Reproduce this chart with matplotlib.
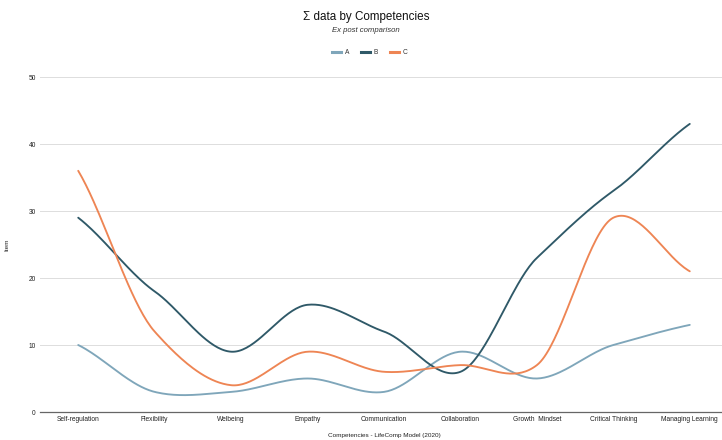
import numpy as np
import matplotlib
matplotlib.use("Agg")
import matplotlib.pyplot as plt
from matplotlib.lines import Line2D

plt.rcParams['font.family'] = ['Liberation Sans', 'DejaVu Sans']

categories = ["Self-regulation", "Flexibility", "Welbeing", "Empathy", "Communication",
              "Collaboration", "Growth  Mindset", "Critical Thinking", "Managing Learning"]
series_a = [10, 3, 3, 5, 3, 9, 5, 10, 13]
series_b = [29, 18, 9, 16, 12, 6, 23, 33, 43]
series_c = [36, 12, 4, 9, 6, 7, 7, 29, 21]
y_ticks = [0, 10, 20, 30, 40, 50]

colors = {"A": "#7FA6BA", "B": "#2F5968", "C": "#EE8554"}


def smooth(values, tension=0.8, samples=40):
    """Cubic Hermite curve through the points with damped Catmull-Rom tangents."""
    y = np.asarray(values, dtype=float)
    n = len(y)
    m = np.zeros(n)
    m[1:-1] = (y[2:] - y[:-2]) / 2.0
    m[0] = y[1] - y[0]
    m[-1] = y[-1] - y[-2]
    m *= tension
    xs, ys = [], []
    for i in range(n - 1):
        t = np.linspace(0, 1, samples, endpoint=(i == n - 2))
        h00 = 2 * t**3 - 3 * t**2 + 1
        h10 = t**3 - 2 * t**2 + t
        h01 = -2 * t**3 + 3 * t**2
        h11 = t**3 - t**2
        xs.append(i + t)
        ys.append(h00 * y[i] + h10 * m[i] + h01 * y[i + 1] + h11 * m[i + 1])
    return np.concatenate(xs), np.concatenate(ys)


fig = plt.figure(figsize=(7.22, 4.40), dpi=100)
ax = fig.add_axes([40 / 722, 28 / 440, 688 / 722, 335 / 440])

for name, vals in (("A", series_a), ("B", series_b), ("C", series_c)):
    xs, ys = smooth(vals)
    ax.plot(xs, ys, color=colors[name], lw=1.35, solid_capstyle="round", zorder=3)

ax.set_xlim(-0.5, len(categories) - 0.5)
ax.set_ylim(0, 50)
ax.set_yticks(y_ticks)
ax.set_xticks(range(len(categories)))
ax.set_xticklabels(categories)
ax.tick_params(axis="both", length=0, labelsize=4.8, colors="#222222")
ax.tick_params(axis="x", pad=3)
ax.tick_params(axis="y", pad=3)
ax.grid(axis="y", color="#DDDDDD", lw=0.7)
ax.set_axisbelow(True)
for s in ("top", "right", "left"):
    ax.spines[s].set_visible(False)
ax.spines["bottom"].set_color("#666666")
ax.spines["bottom"].set_linewidth(0.9)

ax.set_ylabel("Item", fontsize=4.6, color="#222222", labelpad=14)
ax.set_xlabel("Competencies - LifeComp Model (2020)", fontsize=4.6, color="#222222", labelpad=7)

fig.text(0.507, 1 - 17 / 440, "\u03a3 data by Competencies", ha="center", va="center",
         fontsize=8.4, color="#111111")
fig.text(0.507, 1 - 31 / 440, "Ex post comparison", ha="center", va="center",
         fontsize=5.6, style="italic", color="#333333")

handles = [Line2D([0], [0], color=colors[k], lw=2.2) for k in ("A", "B", "C")]
fig.legend(handles, ["A", "B", "C"], loc="center", bbox_to_anchor=(0.512, 1 - 53 / 440),
           ncol=3, frameon=False, fontsize=4.8, handlelength=1.3, handletextpad=0.6,
           columnspacing=1.8, labelcolor="#333333")

fig.savefig("out.png", dpi=100, facecolor="white")
